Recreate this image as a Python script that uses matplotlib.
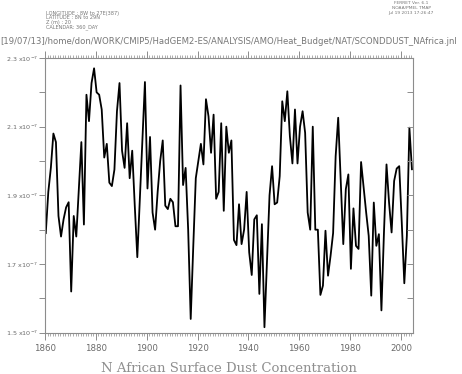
import numpy as np
import matplotlib
matplotlib.use('Agg')
import matplotlib.pyplot as plt
from matplotlib.ticker import MultipleLocator, FixedLocator, FuncFormatter

# annual N African surface dust concentration, units of 1e-7
years = np.arange(1860, 2005)
dust = np.array([
    1.79, 1.91, 1.98, 2.08, 2.055, 1.84, 1.78, 1.83, 1.865, 1.88,      # 1860s
    1.62, 1.84, 1.78, 1.92, 2.055, 1.815, 2.193, 2.116, 2.227, 2.27,   # 1870s
    2.20, 2.193, 2.15, 2.01, 2.05, 1.937, 1.927, 1.975, 2.145, 2.227,  # 1880s
    2.03, 1.98, 2.11, 1.95, 2.03, 1.87, 1.72, 1.89, 2.06, 2.23,        # 1890s
    1.92, 2.07, 1.85, 1.80, 1.91, 2.00, 2.06, 1.87, 1.86, 1.89,        # 1900s
    1.88, 1.81, 1.81, 2.22, 1.93, 1.98, 1.80, 1.54, 1.75, 1.95,        # 1910s
    2.00, 2.05, 1.99, 2.18, 2.13, 2.024, 2.135, 1.89, 1.91, 2.11,      # 1920s
    1.855, 2.10, 2.024, 2.06, 1.77, 1.755, 1.874, 1.758, 1.80, 1.91,   # 1930s
    1.734, 1.668, 1.83, 1.842, 1.613, 1.816, 1.516, 1.71, 1.90, 1.985, # 1940s
    1.874, 1.879, 1.956, 2.174, 2.116, 2.203, 2.072, 1.993, 2.15, 1.993,  # 1950s
    2.10, 2.145, 2.082, 1.85, 1.80, 2.10, 1.80, 1.80, 1.61, 1.637,     # 1960s
    1.797, 1.666, 1.724, 1.79, 2.014, 2.126, 1.94, 1.758, 1.918, 1.961,  # 1970s
    1.686, 1.862, 1.753, 1.744, 1.997, 1.922, 1.85, 1.782, 1.608, 1.879,  # 1980s
    1.753, 1.787, 1.565, 1.792, 1.99, 1.879, 1.792, 1.942, 1.978, 1.985,  # 1990s
    1.821, 1.644, 1.782, 2.097, 1.976,                                  # 2000s
]) * 1e-7

ylabels = [1.5, 1.7, 1.9, 2.1, 2.3]
header_left = ["LONGITUDE : 8W to 27E(387)", "LATITUDE : 8N to 29N",
               "Z (m) : 20", "CALENDAR: 360_DAY"]
header_right = ["FERRET Ver. 6.1", "NOAA/PMEL TMAP", "Jul 19 2013 17:26:47"]
path = "[19/07/13]/home/don/WORK/CMIP5/HadGEM2-ES/ANALYSIS/AMO/Heat_Budget/NAT/SCONDDUST_NAfrica.jnl"
title = "N African Surface Dust Concentration"

W, H = 462, 374
fig = plt.figure(figsize=(W / 100, H / 100), dpi=100)
ax = fig.add_axes([45 / W, 1 - 332.7 / H, 367.7 / W, 274.7 / H])

ax.plot(years + 0.3, dust, color='black', lw=1.3)

ax.set_xlim(1860, 2004.6)
ax.set_ylim(1.5e-7, 2.3e-7)

grey = '#6a6a6a'
for s in ax.spines.values():
    s.set_color('#8c8c8c')
    s.set_linewidth(0.8)

ax.xaxis.set_major_locator(MultipleLocator(20))
ax.xaxis.set_minor_locator(MultipleLocator(1))
ax.tick_params(axis='x', which='both', top=True, bottom=True, direction='out',
               colors='#8c8c8c', labelcolor=grey, labelsize=6.2, pad=3)
ax.tick_params(axis='x', which='major', length=5, width=0.7)
ax.tick_params(axis='x', which='minor', length=2.5, width=0.5)

ax.yaxis.set_major_locator(FixedLocator([v * 1e-7 for v in ylabels]))
ax.yaxis.set_minor_locator(MultipleLocator(0.1e-7))
ax.yaxis.set_major_formatter(FuncFormatter(lambda v, p: r'%.1f x10$^{-7}$' % (v * 1e7)))
ax.tick_params(axis='y', which='both', left=True, right=False, direction='out',
               length=4, width=0.7, colors='#8c8c8c', labelcolor=grey,
               labelsize=4.6, pad=1)

# right-hand axis ticks point inward
ax2 = ax.twinx()
ax2.set_ylim(ax.get_ylim())
ax2.yaxis.set_major_locator(MultipleLocator(0.1e-7))
ax2.tick_params(axis='y', direction='in', length=4, width=0.7,
                colors='#8c8c8c', labelright=False)
for s in ax2.spines.values():
    s.set_visible(False)

for i, t in enumerate(header_left):
    fig.text(46.5 / W, 1 - (13.3 + 4.5 * i) / H, t, fontsize=3.6,
             color='#777777', va='center', ha='left')
for i, t in enumerate(header_right):
    fig.text(411 / W, 1 - (3 + 4.8 * i) / H, t, fontsize=3.2,
             color='#777777', va='center', ha='center')

fig.text(0.5 / W, 1 - 41.7 / H, path, fontsize=6.1, color='#777777',
         va='center', ha='left')

fig.text(229 / W, 1 - 368 / H, title, fontsize=9.5, family='DejaVu Serif',
         color='#8f8f8f', va='center', ha='center')

plt.savefig("out.png", dpi=100)
